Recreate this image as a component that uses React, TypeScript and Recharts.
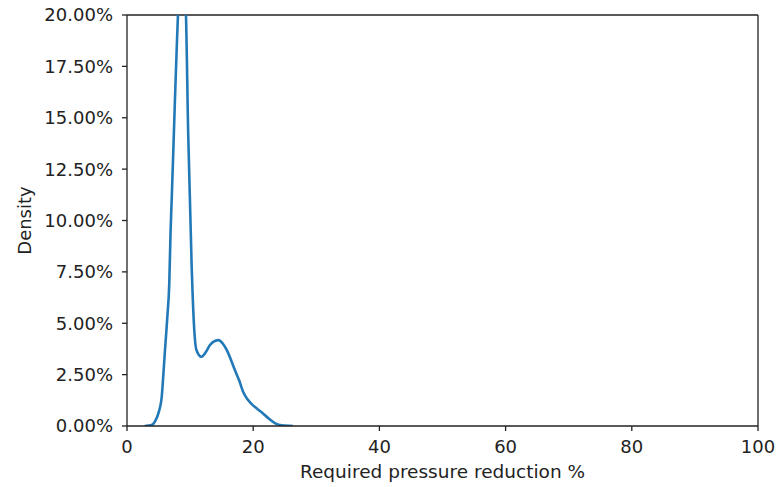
import React from "react";
import { LineChart, Line, XAxis, YAxis, ReferenceLine, Label } from "recharts";

// KDE of the required pressure reduction (x in %, density in %)
const reduction = [
  2.8, 3.8, 4.4, 5.1, 5.5, 5.65, 6.0, 6.39, 6.7, 6.9, 7.08, 7.34, 7.6, 7.87, 8.1,
  8.7, 9.3, 9.7, 10.25, 10.6, 11.0, 11.8, 12.5, 13.15, 14.0, 14.5, 15.2, 15.8,
  16.5, 17.1, 17.8, 18.4, 19.1, 19.8, 20.7, 21.6, 22.5, 23.5, 24.5, 26.3,
];
const density = [
  0, 0.03, 0.2, 0.75, 1.4, 2.0, 3.6, 5.3, 6.95, 9.4, 11, 13.4, 15.9, 18.3, 20.2,
  22.8, 20.5, 14.2, 7.75, 5.0, 3.7, 3.37, 3.6, 3.94, 4.15, 4.18, 4.0, 3.7, 3.2,
  2.72, 2.2, 1.67, 1.3, 1.05, 0.82, 0.6, 0.35, 0.13, 0.03, 0,
];
const xTicks = [0, 20, 40, 60, 80, 100];
const yTicks = [0, 2.5, 5, 7.5, 10, 12.5, 15, 17.5, 20];

const data = reduction.map((x, i) => ({ x, density: density[i] }));

const FONT = "DejaVu Sans";
const INK = "#222";
const tickStyle = { fontSize: 18, fontFamily: FONT, fill: INK };

export default function App() {
  return (
    <div style={{ position: "absolute", left: 0, top: 0, width: 783, height: 487, background: "#fff" }}>
      <LineChart width={783} height={487} data={data} margin={{ top: 15, right: 25, left: 0, bottom: 0 }}>
        <XAxis
          dataKey="x"
          type="number"
          domain={[0, 100]}
          ticks={xTicks}
          height={61}
          tick={tickStyle}
          tickSize={5}
          tickMargin={9}
          stroke={INK}
          strokeWidth={1.3}
          tickLine={{ stroke: INK, strokeWidth: 1.3 }}
        >
          <Label
            value="Required pressure reduction %"
            position="insideBottom"
            offset={9}
            style={{ fontSize: 18.5, fontFamily: FONT, fill: INK }}
          />
        </XAxis>
        <YAxis
          type="number"
          domain={[0, 20]}
          ticks={yTicks}
          allowDataOverflow
          width={127}
          tick={tickStyle}
          tickFormatter={(v: number) => `${v.toFixed(2)}%`}
          tickSize={5}
          tickMargin={9}
          stroke={INK}
          strokeWidth={1.3}
          tickLine={{ stroke: INK, strokeWidth: 1.3 }}
        >
          <Label
            value="Density"
            angle={-90}
            position="insideLeft"
            offset={25}
            style={{ fontSize: 18, fontFamily: FONT, fill: INK, textAnchor: "middle" }}
          />
        </YAxis>
        {/* top and right spines */}
        <ReferenceLine y={20} stroke={INK} strokeWidth={1.3} />
        <ReferenceLine x={100} stroke={INK} strokeWidth={1.3} />
        <Line
          type="monotone"
          dataKey="density"
          stroke="#2279b8"
          strokeWidth={2.6}
          dot={false}
          activeDot={false}
          isAnimationActive={false}
        />
      </LineChart>
    </div>
  );
}
